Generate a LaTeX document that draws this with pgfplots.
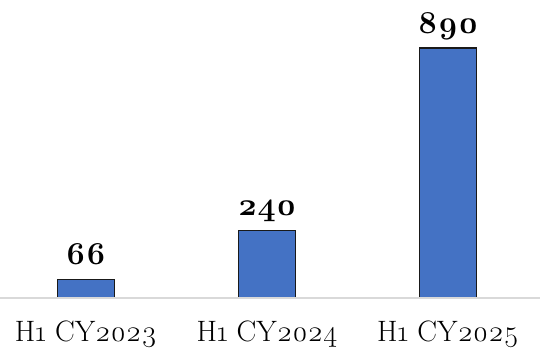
\documentclass[border=0pt]{standalone}
\usepackage{fontspec}
\setmainfont{Latin Modern Roman}[Numbers=OldStyle]
\usepackage{pgfplots}
\pgfplotsset{compat=1.18}
\definecolor{barblue}{HTML}{4472C4}
\definecolor{axisgray}{HTML}{D9D9D9}
\begin{document}
\begin{tikzpicture}
\begin{axis}[
  name=ax,
  scale only axis,
  axis on top,
  width=540pt, height=298pt,
  xmin=-0.475, xmax=2.508,
  ymin=0, ymax=1061,
  axis x line=bottom, axis y line=none,
  axis line style={axisgray, line width=1.5pt, -},
  x axis line style={-},
  xtick=data,
  xticklabels={H1 CY2023, H1 CY2024, H1 CY2025},
  xticklabel style={font=\fontsize{29.5}{29.5}\selectfont, text=black, yshift=-19pt},
  major tick length=0pt,
  ybar, bar width=57pt,
  point meta=explicit symbolic,
  nodes near coords,
  every node near coord/.append style={font=\bfseries\fontsize{32}{32}\selectfont, anchor=base, yshift=15pt, text=black},
]
\addplot[fill=barblue, draw=black!90, line width=1.1pt] coordinates {(0,66) [66] (1,240) [240] (2,890) [890]};
\end{axis}
\pgfresetboundingbox
\useasboundingbox ([yshift=-53pt]ax.south west) rectangle (ax.north east);
\end{tikzpicture}
\end{document}
